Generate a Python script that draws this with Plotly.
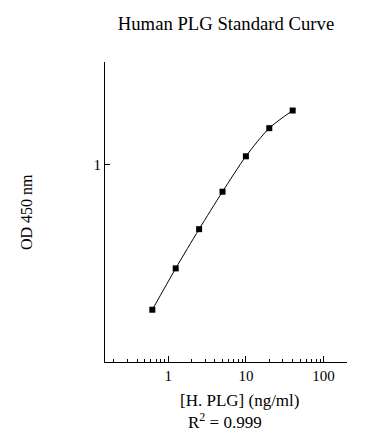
import plotly.graph_objects as go

conc = [0.625, 1.25, 2.5, 5, 10, 20, 40]
od = [0.184, 0.298, 0.471, 0.729, 1.102, 1.53, 1.88]
title_text = "Human PLG Standard Curve"
x_title = "[H. PLG] (ng/ml)"
y_title = "OD 450 nm"
r2_text = "R<sup>2</sup> = 0.999"

FONT = "Liberation Serif"

fig = go.Figure()
fig.add_trace(go.Scatter(
    x=conc, y=od, mode="lines+markers",
    line=dict(color="black", width=1, shape="spline", smoothing=0.8),
    marker=dict(symbol="square", size=6, color="black"),
    showlegend=False,
))

fig.update_layout(
    width=388, height=444,
    margin=dict(l=105, r=41, t=62, b=82),
    paper_bgcolor="white", plot_bgcolor="white",
    font=dict(family=FONT, color="black", size=15),
    title=dict(text=title_text, font=dict(family=FONT, size=18.7, color="black"),
               x=0.5, xref="paper", y=1 - 23 / 444, yref="container",
               xanchor="center", yanchor="middle"),
    xaxis=dict(type="log", range=[-0.813, 2.301], showgrid=False, zeroline=False,
               showline=True, linecolor="black", linewidth=1,
               dtick=1, ticks="inside", ticklen=6, tickcolor="black",
               tickfont=dict(family=FONT, size=15, color="black"),
               minor=dict(ticks="inside", ticklen=3, dtick="D1", tickcolor="black", showgrid=False)),
    yaxis=dict(type="log", range=[-1, 0.52], showgrid=False, zeroline=False,
               showline=True, linecolor="black", linewidth=1,
               tickvals=[1], ticktext=["1"], ticks="inside", ticklen=5, tickcolor="black",
               tickfont=dict(family=FONT, size=15, color="black")),
    annotations=[
        dict(text=x_title, xref="paper", yref="paper", x=(178 - 105) / 242, y=0,
             xanchor="left", yanchor="middle", yshift=-38, showarrow=False,
             font=dict(family=FONT, size=17, color="black")),
        dict(text=r2_text, xref="paper", yref="paper", x=(186 - 105) / 242, y=0,
             xanchor="left", yanchor="middle", yshift=-59, showarrow=False,
             font=dict(family=FONT, size=17, color="black")),
        dict(text=y_title, xref="paper", yref="paper", x=0, y=0.5, xshift=-79,
             xanchor="center", yanchor="middle", textangle=-90, showarrow=False,
             font=dict(family=FONT, size=16, color="black")),
    ],
)

fig.write_html("out.html")
